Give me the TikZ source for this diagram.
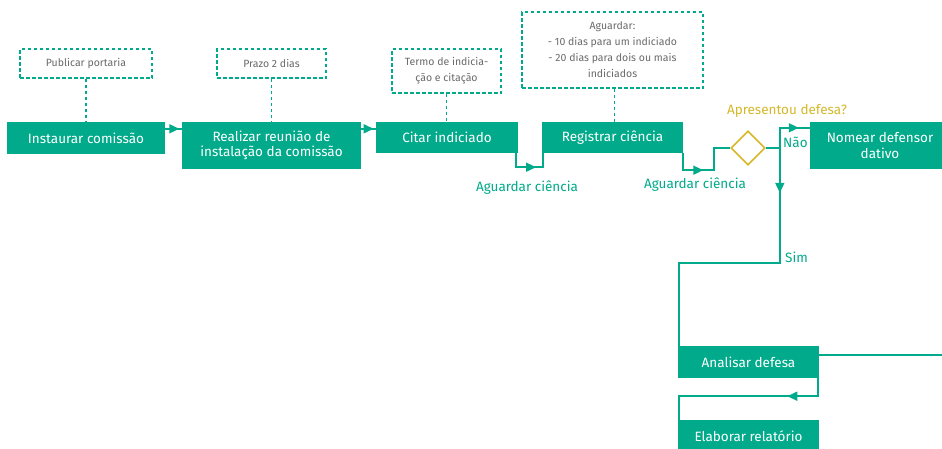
\documentclass[tikz,border=0pt]{standalone}
\usepackage{fontspec}
\setmainfont{Fira Sans}
\usetikzlibrary{shapes.geometric,arrows.meta,decorations.markings}
\definecolor{G}{RGB}{0,170,138}
\definecolor{Y}{RGB}{212,184,42}
\definecolor{T}{RGB}{105,105,105}
\tikzset{
  proc/.style={fill=G, text=white, font=\fontsize{13.5}{15.5}\selectfont, align=center, inner sep=0pt},
  note/.style={draw=G, dash pattern=on 3.5pt off 2.5pt, line width=1.2pt, text=T, font=\fontsize{10.5}{16}\selectfont, align=center, inner sep=0pt},
  conn/.style={draw=G, dash pattern=on 3.5pt off 2.5pt, line width=1.2pt},
  flow/.style={draw=G, line width=1.6pt},
  tipat/.style={postaction={decorate}, decoration={markings, mark=at position #1 with {\arrow[G]{Triangle[length=10pt,width=9pt]}}}},
  lbl/.style={text=G, font=\fontsize{13.5}{15}\selectfont, inner sep=0pt}
}
\begin{document}
\begin{tikzpicture}[x=1pt,y=-1pt]
\useasboundingbox (0,0) rectangle (942,448);
\clip (0,0) rectangle (942,448);
% process boxes
\node[proc, minimum width=158pt, minimum height=32pt] (instaurar) at (86,138) {Instaurar comissão};
\node[proc, minimum width=179pt, minimum height=47pt] (realizar) at (271.5,145.5) {Realizar reunião de\\instalação da comissão};
\node[proc, minimum width=142pt, minimum height=31pt] (citar) at (447,137.5) {Citar indiciado};
\node[proc, minimum width=141pt, minimum height=31pt] (registrar) at (612.5,137.5) {Registrar ciência};
\node[proc, minimum width=140pt, minimum height=47pt] (nomear) at (880,145.5) {Nomear defensor\\dativo};
\node[proc, minimum width=141pt, minimum height=32pt] (analisar) at (748.5,362) {Analisar defesa};
\node[proc, minimum width=141pt, minimum height=32pt] (elaborar) at (748.5,436) {Elaborar relatório};
% decision
\node[diamond, draw=Y, line width=1.6pt, minimum width=34pt, minimum height=34pt, inner sep=0pt] (dia) at (748,148) {};
% notes
\node[note, minimum width=132pt, minimum height=29pt] (n1) at (86,63.5) {Publicar portaria};
\node[note, minimum width=109pt, minimum height=29pt] (n2) at (271.5,63.5) {Prazo 2 dias};
\node[note, minimum width=109pt, minimum height=44pt] (n3) at (446.5,71) {Termo de indicia-\\ção e citação};
\node[note, minimum width=181pt, minimum height=76pt] (n4) at (612.5,50) {Aguardar:\\- 10 dias para um indiciado\\- 20 dias para dois ou mais\\indiciados};
% dashed connectors
\draw[conn] (n1.south) -- (instaurar.north -| n1.south);
\draw[conn] (n2.south) -- (realizar.north -| n2.south);
\draw[conn] (n3.south) -- (citar.north -| n3.south);
\draw[conn] ([xshift=2pt]n4.south) -- ([xshift=2pt]registrar.north -| n4.south);
% flows
\draw[flow, tipat=0.85] ([yshift=-7pt]instaurar.north east) -- ([yshift=-7pt]realizar.north west);
\draw[flow, tipat=0.85] ([yshift=-7pt]realizar.north east) -- ([yshift=-7pt]citar.north west);
\draw[flow, tipat=0.62] ([xshift=-2pt]citar.south east) -- ++(0,14) -| ([xshift=1pt]registrar.south west);
\draw[flow, tipat=0.43] (registrar.south east) -- ++(0,17) -- ++(31,0) |- (dia.west);
\draw[flow] (dia.east) -- ++(14,0) coordinate (split);
\draw[flow, tipat=0.78] (split) |- ([yshift=-6pt]nomear.north west);
\draw[flow, tipat=0.15] (split) -- ++(0,115) -| ([xshift=1pt]analisar.north west);
\draw[flow] ([yshift=7pt]analisar.east) -- ++(140,0) coordinate (out);
\draw[flow, tipat=0.27] ([xshift=-1pt]analisar.south east) -- ++(0,18) -| ([xshift=1pt]elaborar.north west);
% labels
\node[lbl] (l1) at (527,188) {Aguardar ciência};
\node[lbl] (l2) at (695,185) {Aguardar ciência};
\node[lbl, text=Y] (l3) at (787,111) {Apresentou defesa?};
\node[lbl, anchor=west] (l4) at (783,142) {Não};
\node[lbl, anchor=west] (l5) at (785,257) {Sim};
\end{tikzpicture}
\end{document}
